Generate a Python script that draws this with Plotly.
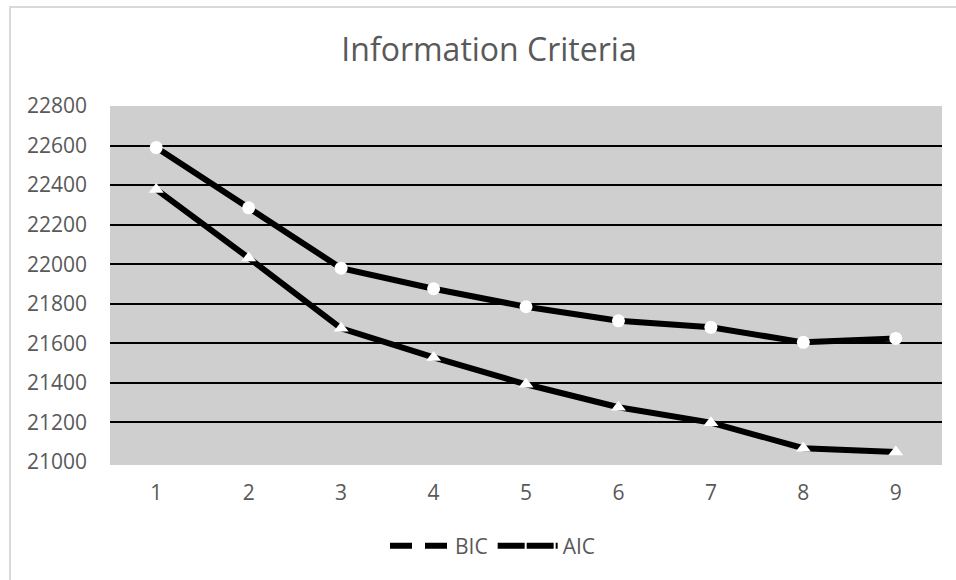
import plotly.graph_objects as go

categories = [1, 2, 3, 4, 5, 6, 7, 8, 9]
bic_values = [22590, 22285, 21980, 21876, 21785, 21714, 21681, 21605, 21625]
aic_values = [22378, 22032, 21676, 21529, 21393, 21277, 21199, 21070, 21050]
y_ticks = [21000, 21200, 21400, 21600, 21800, 22000, 22200, 22400, 22600, 22800]

FONT = "Open Sans"
GRAY = "#595959"

fig = go.Figure()

# data traces (solid lines with white markers)
fig.add_trace(go.Scatter(
    x=categories, y=bic_values, mode="lines+markers", name="BIC", showlegend=False,
    line=dict(color="black", width=6),
    marker=dict(symbol="circle", size=13, color="white", line=dict(width=0)),
))
fig.add_trace(go.Scatter(
    x=categories, y=aic_values, mode="lines+markers", name="AIC", showlegend=False,
    line=dict(color="black", width=6),
    marker=dict(symbol="triangle-up", size=13, color="white", line=dict(width=0)),
))
# legend entries (dashed, as in the reference)
fig.add_trace(go.Scatter(
    x=[None], y=[None], mode="lines", name="BIC",
    line=dict(color="black", width=6, dash="22px,13px"),
))
fig.add_trace(go.Scatter(
    x=[None], y=[None], mode="lines", name="AIC",
    line=dict(color="black", width=6, dash="27px,2px"),
))

L, R, T, B = 110, 14, 106, 118
W, H = 956, 580
pw = W - L - R
ph = H - T - B

fig.update_layout(
    width=W, height=H,
    margin=dict(l=L, r=R, t=T, b=B),
    paper_bgcolor="white",
    plot_bgcolor="#d0cfd0",
    font=dict(family=FONT, color=GRAY, size=21),
    title=dict(
        text="Information Criteria",
        font=dict(family=FONT, size=32, color=GRAY),
        x=(489 - L) / pw, xref="paper", xanchor="center",
        y=1 - 50 / H, yref="container", yanchor="middle",
    ),
    showlegend=True,
    legend=dict(
        orientation="h",
        x=(493 - L) / pw, xanchor="center",
        y=-(546 - (H - B)) / ph, yanchor="middle",
        font=dict(family=FONT, size=21, color=GRAY),
        itemwidth=60,
        bgcolor="rgba(0,0,0,0)",
    ),
    xaxis=dict(
        range=[0.5, 9.5],
        tickmode="array", tickvals=categories, ticktext=[str(c) for c in categories],
        showgrid=False, zeroline=False,
        showline=True, linecolor="#d0cfd0", linewidth=3,
        ticks="", ticklabelstandoff=10,
        tickfont=dict(family=FONT, size=21, color=GRAY),
        fixedrange=True,
    ),
    yaxis=dict(
        range=[21000, 22800],
        tickmode="array", tickvals=y_ticks, ticktext=[str(v) for v in y_ticks],
        showgrid=True, gridcolor="black", gridwidth=2,
        zeroline=False, showline=False,
        ticks="", ticklabelstandoff=22,
        tickfont=dict(family=FONT, size=21, color=GRAY),
        fixedrange=True,
    ),
    shapes=[
        dict(
            type="rect", xref="paper", yref="paper",
            x0=(10 - L) / pw, x1=(962 - L) / pw,
            y0=-(585 - (H - B)) / ph, y1=((H - B) - 7) / ph,
            line=dict(color="#d9d9d9", width=2),
            fillcolor="rgba(0,0,0,0)", layer="below",
        )
    ],
)

fig.write_html(
    "out.html",
    config={"displayModeBar": False},
    post_script="document.body.style.margin='0';document.body.style.overflow='hidden';",
)
